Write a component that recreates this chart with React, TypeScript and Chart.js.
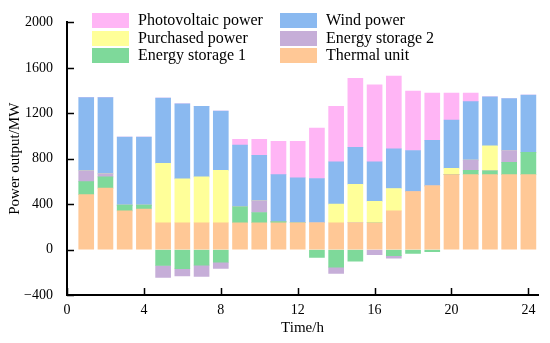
import React, { useEffect, useRef } from "react";
import { Chart, registerables } from "chart.js";

Chart.register(...registerables);

const hours = [1, 2, 3, 4, 5, 6, 7, 8, 9, 10, 11, 12, 13, 14, 15, 16, 17, 18, 19, 20, 21, 22, 23, 24];
const thermal = [484, 541, 340, 357, 236, 236, 236, 236, 236, 236, 236, 236, 236, 236, 236, 236, 340, 510, 561, 660, 660, 660, 660, 660];
const storage1 = [114, 99, 51, 34, -140, -169, -137, -112, 141, 90, 10, 0, -70, -154, -103, 0, -53, -33, -19, 0, 37, 34, 107, 197];
const storage2 = [96, 26, 0, 0, -105, -62, -99, -54, 0, 102, 0, 0, 0, -57, 0, -45, -22, 0, 0, 0, 90, 0, 105, 0];
const purchased = [0, 0, 0, 0, 523, 387, 404, 461, 0, 0, 0, 0, 0, 164, 339, 189, 198, 0, 0, 56, 0, 220, 0, 0];
const wind = [644, 672, 600, 600, 574, 659, 620, 523, 543, 401, 414, 396, 390, 373, 325, 348, 348, 362, 401, 425, 515, 430, 458, 504];
const pv = [0, 0, 0, 0, 0, 0, 0, 0, 51, 142, 294, 322, 444, 489, 608, 678, 642, 523, 416, 237, 76, 0, 0, 0];

const xTicks = [0, 4, 8, 12, 16, 20, 24];
const yTicks = [-400, 0, 400, 800, 1200, 1600, 2000];

const seriesNames = {
  thermal: "Thermal unit",
  storage1: "Energy storage 1",
  storage2: "Energy storage 2",
  purchased: "Purchased power",
  wind: "Wind power",
  pv: "Photovoltaic power",
};

const colors = {
  thermal: "#FFC896",
  storage1: "#7ED99A",
  storage2: "#C6AED8",
  purchased: "#FFFF99",
  wind: "#8AB9F0",
  pv: "#FFB5F5",
};

const legendColumns = [
  ["pv", "purchased", "storage1"],
  ["wind", "storage2", "thermal"],
];

const FONT = '"Liberation Serif", "Times New Roman", serif';

export default function App() {
  const ref = useRef<HTMLCanvasElement | null>(null);

  useEffect(() => {
    document.body.style.margin = "0";
    const canvas = ref.current;
    if (!canvas) return;

    const mk = (key: string, vals: number[]) => ({
      label: seriesNames[key],
      data: hours.map((h, i) => ({ x: h, y: vals[i] })),
      backgroundColor: colors[key],
      borderWidth: 0,
      barThickness: 15,
      stack: "s",
    });

    const tickPlugin = {
      id: "innerTicksLegend",
      afterDraw(chart: any) {
        const ctx = chart.ctx;
        const xs = chart.scales.x;
        const ys = chart.scales.y;
        const area = chart.chartArea;
        ctx.save();
        ctx.strokeStyle = "#000";
        ctx.lineWidth = 1.5;
        ctx.beginPath();
        yTicks.forEach((v) => {
          const y = Math.round(ys.getPixelForValue(v)) + 0.5;
          ctx.moveTo(area.left, y);
          ctx.lineTo(area.left + 7, y);
        });
        xTicks.forEach((v) => {
          const x = Math.round(xs.getPixelForValue(v)) + 0.5;
          ctx.moveTo(x, area.bottom);
          ctx.lineTo(x, area.bottom - 7);
        });
        ctx.stroke();

        // legend
        ctx.font = `16px ${FONT}`;
        ctx.textBaseline = "middle";
        ctx.textAlign = "left";
        const colX = [92, 280];
        const rowY = [13, 31, 48];
        legendColumns.forEach((col, ci) => {
          col.forEach((key, ri) => {
            ctx.fillStyle = colors[key];
            ctx.fillRect(colX[ci], rowY[ri], 37, 15);
            ctx.fillStyle = "#000";
            ctx.fillText(seriesNames[key], colX[ci] + 46, rowY[ri] + 8);
          });
        });
        ctx.restore();
      },
    };

    const chart = new Chart(canvas, {
      type: "bar",
      data: {
        datasets: [
          mk("thermal", thermal),
          mk("storage1", storage1),
          mk("storage2", storage2),
          mk("purchased", purchased),
          mk("wind", wind),
          mk("pv", pv),
        ],
      },
      options: {
        responsive: false,
        animation: false,
        devicePixelRatio: 1,
        layout: { padding: { top: 12, right: 12, left: 0, bottom: 0 } },
        plugins: { legend: { display: false }, tooltip: { enabled: false } },
        scales: {
          x: {
            type: "linear",
            stacked: true,
            min: 0,
            max: 24.5,
            offset: false,
            afterBuildTicks: (s: any) => {
              s.ticks = xTicks.map((v) => ({ value: v }));
            },
            afterFit: (s: any) => {
              s.height = 48;
            },
            ticks: {
              color: "#000",
              font: { size: 14, family: FONT },
              padding: 7,
              maxRotation: 0,
              autoSkip: false,
            },
            grid: { display: true, drawOnChartArea: false, drawTicks: false },
            border: { display: true, color: "#000", width: 2 },
            title: {
              display: true,
              text: "Time/h",
              color: "#000",
              font: { size: 15, family: FONT },
              padding: { top: 0, bottom: 6 },
            },
          },
          y: {
            stacked: true,
            min: -400,
            max: 2000,
            afterBuildTicks: (s: any) => {
              s.ticks = yTicks.map((v) => ({ value: v }));
            },
            afterFit: (s: any) => {
              s.width = 67;
            },
            ticks: {
              color: "#000",
              font: { size: 14, family: FONT },
              padding: 14,
              callback: (v: any) => (v < 0 ? "\u2212" + Math.abs(v) : String(v)),
            },
            grid: { display: true, drawOnChartArea: false, drawTicks: false },
            border: { display: true, color: "#000", width: 2 },
            title: {
              display: true,
              text: "Power output/MW",
              color: "#000",
              font: { size: 15, family: FONT },
              padding: { top: 6, bottom: 0 },
            },
          },
        },
      },
      plugins: [tickPlugin],
    });

    return () => chart.destroy();
  }, []);

  return (
    <div style={{ width: 550, height: 343 }}>
      <canvas ref={ref} width={550} height={343} style={{ display: "block", width: 550, height: 343 }} />
    </div>
  );
}
